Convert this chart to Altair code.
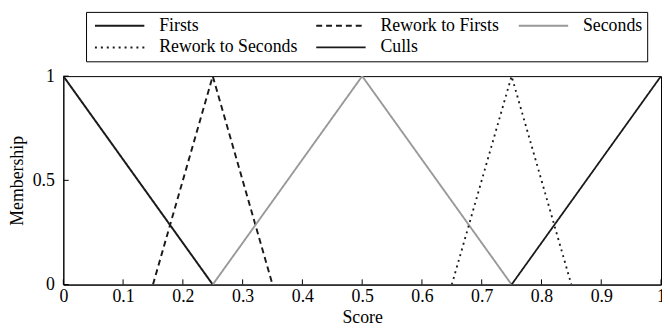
import altair as alt
import pandas as pd

# ---- data ----
series_names = ["Firsts", "Rework to Firsts", "Seconds", "Rework to Seconds", "Culls"]
firsts_x = [0.0, 0.25]
firsts_y = [1.0, 0.0]
rework_firsts_x = [0.15, 0.25, 0.35]
rework_firsts_y = [0.0, 1.0, 0.0]
seconds_x = [0.25, 0.5, 0.75]
seconds_y = [0.0, 1.0, 0.0]
rework_seconds_x = [0.65, 0.75, 0.85]
rework_seconds_y = [0.0, 1.0, 0.0]
culls_x = [0.75, 1.0]
culls_y = [0.0, 1.0]

x_ticks = [0, 0.1, 0.2, 0.3, 0.4, 0.5, 0.6, 0.7, 0.8, 0.9, 1]
y_ticks = [0, 0.5, 1]

# ---- styles ----
colors = ["#1a1a1a", "#1a1a1a", "#999999", "#1a1a1a", "#1a1a1a"]
dashes = [[1, 0], [6, 4], [1, 0], [2, 4], [1, 0]]
widths = [2.0, 1.8, 2.0, 2.0, 1.0]
FONT = "Liberation Serif, Times New Roman, serif"
FS = 18

rows = []
for name, xs, ys in zip(
    series_names,
    [firsts_x, rework_firsts_x, seconds_x, rework_seconds_x, culls_x],
    [firsts_y, rework_firsts_y, seconds_y, rework_seconds_y, culls_y],
):
    for i, (x, y) in enumerate(zip(xs, ys)):
        rows.append({"series": name, "score": x, "membership": y, "order": i})
df = pd.DataFrame(rows)

xscale = alt.Scale(domain=[0, 1], nice=False, zero=False)
yscale = alt.Scale(domain=[0, 1], nice=False, zero=False)

legend = alt.Legend(
    title=None,
    orient="none",
    legendX=23,
    legendY=-65,
    direction="horizontal",
    columns=3,
    symbolType="M-1,0L9,0",
    symbolSize=100,
    labelFont=FONT,
    labelFontSize=FS,
    labelColor="black",
    labelOffset=51,
    labelExpr="datum.label == 'Rework to Firsts' ? datum.label + '\u00a0\u00a0\u00a0\u00a0' : datum.label",
    columnPadding=15,
    rowPadding=4,
    padding=5,
    strokeColor="black",
    fillColor="white",
    labelLimit=400,
)

axis_common = dict(
    ticks=False,
    labelFont=FONT,
    labelFontSize=FS,
    labelColor="black",
    titleFont=FONT,
    titleFontSize=FS,
    titleFontWeight="normal",
    titleColor="black",
    titleBaseline="middle",
    domainColor="black",
    grid=False,
    labelFlush=False,
    labelOverlap=False,
    format="~g",
)

lines = alt.Chart(df).mark_line(clip=True).encode(
    x=alt.X(
        "score:Q",
        scale=xscale,
        title="Score",
        axis=alt.Axis(values=x_ticks, labelPadding=3, titleX=302.5, titleY=33, **axis_common),
    ),
    y=alt.Y(
        "membership:Q",
        scale=yscale,
        title="Membership",
        axis=alt.Axis(values=y_ticks, labelPadding=9, titleX=-46, titleY=105.5, **axis_common),
    ),
    color=alt.Color(
        "series:N",
        scale=alt.Scale(domain=series_names, range=colors),
        sort=series_names,
        legend=legend,
    ),
    strokeDash=alt.StrokeDash(
        "series:N",
        scale=alt.Scale(domain=series_names, range=dashes),
        sort=series_names,
    ),
    strokeWidth=alt.StrokeWidth(
        "series:N",
        scale=alt.Scale(domain=series_names, range=widths),
        sort=series_names,
    ),
    detail="series:N",
    order="order:Q",
)

xt = pd.DataFrame({"t": x_ticks, "y0": 0.0, "y1": 0.025})
yt = pd.DataFrame({"t": y_ticks, "x0": 0.0, "x1": 0.009})

xtick_layer = alt.Chart(xt).mark_rule(color="black", strokeWidth=1).encode(
    x=alt.X("t:Q", scale=xscale),
    y=alt.Y("y0:Q", scale=yscale),
    y2="y1:Q",
)
ytick_layer = alt.Chart(yt).mark_rule(color="black", strokeWidth=1).encode(
    y=alt.Y("t:Q", scale=yscale),
    x=alt.X("x0:Q", scale=xscale),
    x2="x1:Q",
)

chart = (
    alt.layer(lines, xtick_layer, ytick_layer)
    .properties(
        width=605,
        height=211,
        autosize=alt.AutoSizeParams(type="none"),
        padding={"left": 56, "top": 67, "right": 1, "bottom": 42},
        background="white",
    )
    .configure_view(stroke="black", strokeWidth=1)
)

chart.save("out.html", embed_options={"renderer": "svg", "actions": False})
